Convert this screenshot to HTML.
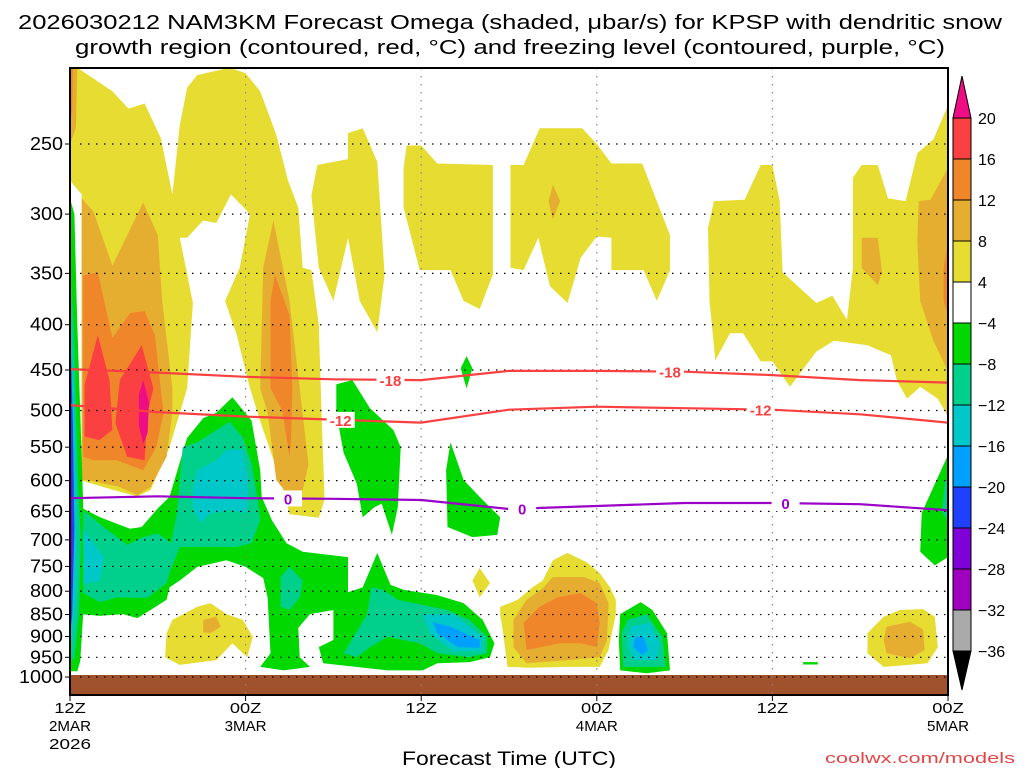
<!DOCTYPE html>
<html><head><meta charset="utf-8">
<style>
html,body{margin:0;padding:0;background:#fff;}
svg{display:block;font-family:"Liberation Sans",sans-serif;}
</style></head>
<body>
<svg id="chart" width="1024" height="768" viewBox="0 0 1024 768">
  <text x="510" y="29" font-size="20" text-anchor="middle" textLength="984" lengthAdjust="spacingAndGlyphs">2026030212 NAM3KM Forecast Omega (shaded, μbar/s) for KPSP with dendritic snow</text>
  <text x="510" y="54" font-size="20" text-anchor="middle" textLength="870" lengthAdjust="spacingAndGlyphs">growth region (contoured, red, °C) and freezing level (contoured, purple, °C)</text>
  <g id="plot"></g>
  <g id="axes"></g>
  <g id="cbar"></g>
  <text x="509" y="765" font-size="19" text-anchor="middle" textLength="214" lengthAdjust="spacingAndGlyphs">Forecast Time (UTC)</text>
  <text x="1015" y="763" font-size="15" fill="#e24545" text-anchor="end" textLength="190" lengthAdjust="spacingAndGlyphs">coolwx.com/models</text>
</svg>
<script>
// ---- data (hours since 12Z 2 MAR, pressure hPa) ----
const contourHours = [0,6,12,18,24,30,36,42,48,54,60];
const isoMinus18 = [449,453,458,461,462,451,451,452,456,462,465];
const isoMinus12 = [493,502,508,512,516,499,495,497,499,505,516];
const isoZero = [628,625,628,629,631,646,641,636,636,638,648];
const pressureTicks = [250,300,350,400,450,500,550,600,650,700,750,800,850,900,950,1000];
const timeTicks = [0,12,24,36,48,60];
const timeLabels1 = ["12Z","00Z","12Z","00Z","12Z","00Z"];
const timeLabels2 = ["2MAR","3MAR","","4MAR","","5MAR"];
const timeLabels3 = ["2026","","","","",""];
const colorLevels = [20,16,12,8,4,-4,-8,-12,-16,-20,-24,-28,-32,-36];

// shaded regions (hour, hPa)
const yelA = [[0,205],[0.5,205],[2.9,218],[4,228],[5.1,225],[6.2,246],[7,285],[7.5,238],[8,216],[8.7,209],[10.9,205],[12,208],[13,218],[14.1,244],[14.9,275],[15.6,295],[15.9,345],[16.5,347],[17,400],[17.2,510],[17.4,630],[17,661],[15,655],[14.4,600],[13.1,520],[12.3,472],[11.4,411],[10.6,376],[11.6,345],[12.3,300],[11,285],[10,307],[9.1,305],[8,319],[7.5,319],[8.4,378],[8,472],[6.8,550],[5.5,615],[4.6,625],[3,615],[0.8,600],[0.8,285],[0,275]];
const yelB = [[16.9,264],[19.0,260],[19.0,243],[20.0,240],[21.0,262],[21.5,351],[21.0,408],[19.8,376],[19.0,319],[18.0,376],[17.0,345],[16.5,286]];
const yelC = [[23,251],[24,251],[25.1,263],[28.9,264],[28.9,351],[28,384],[26.9,376],[26,347],[23.9,347],[22.8,295],[22.8,266]];
const yelD = [[30.1,264],[31,264],[32.1,240],[35,240],[36,250],[37,263],[39.1,263],[41,317],[41,347],[40.1,376],[39.2,347],[37,347],[37,319],[36,318],[34.9,336],[34,378],[32.8,362],[32,319],[31,347],[30.1,345]];
const yelE = [[44,290],[46.1,289],[47.2,264],[48,264],[48.5,290],[48.7,349],[51,378],[52.1,371],[53.1,395],[53.5,345],[53.5,273],[54.1,264],[55.2,264],[55.9,288],[57.1,290],[57.9,256],[59,247],[60,226],[60,508],[59.3,485],[58.1,470],[57.2,485],[56.5,462],[56.1,433],[54.5,422],[52.2,417],[51,429],[49.2,470],[48,440],[47.2,440],[46,409],[45.1,409],[44.1,439],[43.7,376],[43.6,311]];
const yelLowA = [[6.6,892],[7.0,862],[8.7,833],[9.6,825],[10.7,849],[11.8,862],[12.5,901],[12.1,950],[11.1,916],[10.0,957],[7.5,969],[6.5,950]];
const yelDiamond = [[28,753],[28.7,783],[28,813],[27.5,778]];
const yelLowB = [[29.4,833],[30.6,818],[31.6,792],[32.3,778],[33,738],[34,724],[35.3,742],[36.2,763],[36.9,792],[37.3,818],[37.3,849],[36.8,932],[36.2,974],[34,974],[31.4,976],[29.9,974],[29.6,892],[29.4,849]];
const yelLowC = [[54.5,892],[55.6,855],[56.7,840],[58.3,838],[59.1,855],[59.3,925],[58.6,965],[55.6,974],[54.5,940]];
const goldTL = [[0,205],[0.5,205],[0.4,240],[0,250]];
const goldA = [[0.8,288],[1.6,298],[2.9,343],[5.0,291],[6.0,317],[6.3,376],[7,472],[7,503],[6.6,564],[5.5,610],[4.6,623],[3.4,610],[1.2,599],[0.8,599]];
const goldCol = [[13.9,305],[15.0,376],[15.7,472],[16.3,575],[15.9,615],[14.8,620],[14.1,599],[13.5,503],[13.0,472],[13.2,345]];
const goldSpotD = [[33,278],[33.5,290],[33,304],[32.7,290]];
const goldSpotE = [[54.1,319],[55.2,319],[55.5,349],[55.2,361],[54.1,345]];
const goldRight = [[60,266],[58.8,289],[58,290],[57.9,322],[58.1,376],[59,417],[59.9,448],[59.9,503],[60,508]];
const goldLowA = [[9.1,862],[10,855],[10.3,877],[9.6,892],[9.1,890]];
const goldLowB = [[30.3,862],[31.2,818],[32.3,794],[33,771],[35.1,771],[36.2,783],[36.8,825],[36.7,908],[36.2,950],[34,957],[31.2,965],[30.3,925]];
const goldLowC = [[55.8,877],[57.4,866],[58.3,884],[58.4,932],[57.4,952],[55.8,940],[55.6,908]];
const orangeTL = [[0,205],[0.2,205],[0.15,230],[0,235]];
const orangeA = [[0.9,352],[1.9,349],[2.9,414],[4.1,388],[5.1,386],[5.8,411],[6.2,472],[6.4,503],[5.9,550],[5.0,584],[3.2,569],[1.6,569],[0.9,564]];
const orangeCol = [[14,351],[15,390],[15.2,472],[15.1,540],[15,564],[14.5,500],[13.7,472],[13.7,376]];
const orangeRight = [[60,322],[59.7,345],[59.7,376],[60,390]];
const orangeLowB = [[31,868],[32.1,833],[33.3,813],[34.9,804],[36.0,825],[36.2,868],[36.0,925],[34.9,916],[33.5,916],[31.2,932]];
const redA1 = [[1.9,411],[2.7,462],[2.9,526],[2.0,540],[1.0,535],[1.0,468]];
const redA2 = [[4.9,422],[5.7,472],[5.3,503],[5.1,569],[3.9,564],[3.1,517],[3.4,462]];
const magentaA = [[5.0,462],[5.4,490],[5.3,530],[5.0,545],[4.7,520],[4.7,480]];
const greenMain = [[0.7,643],[2.05,660],[4.1,680],[4.9,677],[6.0,645],[6.8,626],[8.0,537],[9.1,510],[10.0,503],[11.1,483],[11.8,499],[12.4,513],[13.0,584],[13.1,626],[13.8,665],[14.8,706],[15.9,722],[19.0,732],[19.0,802],[20.0,792],[21.0,724],[21.9,787],[22.8,797],[25.1,808],[26.9,825],[28.2,862],[29.0,916],[28.7,950],[27.3,962],[25.1,965],[24.1,983],[21.7,983],[17.3,965],[17.0,925],[18.0,908],[18.0,840],[16.4,849],[15.6,880],[15.7,950],[16.4,974],[14.6,983],[13.0,974],[13.7,940],[13.5,813],[13.2,773],[12.0,751],[10.7,738],[8.7,751],[7.5,778],[6.8,792],[6.6,818],[5.5,840],[4.6,858],[3.6,849],[2.05,853],[0.7,849]];
const greenCol = [[18.2,467],[19.3,462],[20.5,497],[22.1,526],[22.6,550],[22.4,643],[22,691],[21.3,637],[20.8,643],[20,660],[19.6,605],[18.7,558],[18.2,503]];
const greenB = [[26,543],[26.9,599],[28.2,631],[29.4,660],[29.2,691],[27.5,695],[25.8,677],[25.7,584]];
const greenSpike = [[27.1,434],[27.5,448],[27.1,472],[26.7,448]];
const greenLowB = [[37.6,849],[39.0,823],[39.8,840],[40.8,892],[41,983],[39.4,990],[37.6,983],[37.5,908]];
const greenRight = [[59.9,566],[60,560],[60,732],[59.1,748],[58.1,722],[58.2,653],[59,610]];
const greenDash = [[50.1,962],[51.1,962],[51.1,968],[50.1,968]];
const greenStrip = [[0,288],[0.3,300],[0.5,400],[0.7,500],[0.9,640],[0.9,850],[0.7,960],[0.5,985],[0,985]];
const tealMain = [[0.9,648],[2.3,677],[3.9,709],[5.0,695],[6.0,688],[6.9,706],[7.3,653],[7.7,550],[8.7,543],[10.0,526],[10.9,515],[11.8,536],[12.4,573],[12.8,626],[13.0,665],[12.4,706],[11.4,713],[7.5,713],[6.8,763],[6.6,783],[5.3,814],[3.2,813],[2.05,823],[0.9,804]];
const tealSmall = [[14.4,771],[15,751],[15.9,778],[15.7,813],[15,840],[14.4,833]];
const tealLow = [[18.7,940],[20.3,849],[20.6,792],[21.4,797],[22.4,818],[24.1,829],[25.8,840],[27.3,862],[28.5,901],[28.5,940],[27.3,950],[25.1,940],[23.9,916],[21.7,901],[20.5,925],[19.6,950]];
const tealLowB = [[38.1,862],[39.4,849],[40.5,901],[40.7,974],[37.8,974],[37.7,892]];
const tealRight = [[59.8,600],[60,600],[60,668],[59.6,650]];
const tealStrip = [[0,330],[0.3,420],[0.55,600],[0.75,700],[0.6,850],[0.3,950],[0,965]];
const cyanLeft = [[0.9,680],[2.3,732],[2.05,778],[0.9,785]];
const cyanMid = [[8.4,615],[8.7,584],[10,569],[10.7,554],[11.8,554],[12.2,599],[12.1,653],[10.9,648],[9.6,653],[8.9,670],[8.4,643]];
const cyanLow = [[24.1,849],[26.2,849],[28.2,901],[28.2,935],[26.2,935],[24.6,893]];
const cyanLowB = [[38.3,877],[39.6,868],[40.3,916],[40.1,957],[38.5,957],[38.1,916]];
const cyanStrip = [[0,360],[0.25,480],[0.45,650],[0.4,800],[0.2,900],[0,930]];
const blueLow = [[24.8,867],[26,877],[28,908],[28,927],[26.5,925],[25.1,892]];
const blueLowB = [[38.6,901],[39.2,901],[39.5,932],[39.1,945],[38.5,925]];
const blueStrip = [[0,390],[0.2,520],[0.3,680],[0.15,850],[0,900]];
const purpleStrip = [[0,450],[0.12,600],[0.15,720],[0.05,840],[0,850]];

const fills = [
 ["yellow-region-a",yelA,"#e6dc32"],["yellow-region-b",yelB,"#e6dc32"],["yellow-region-c",yelC,"#e6dc32"],
 ["yellow-region-d",yelD,"#e6dc32"],["yellow-region-e",yelE,"#e6dc32"],["yellow-low-a",yelLowA,"#e6dc32"],
 ["yellow-diamond",yelDiamond,"#e6dc32"],["yellow-low-b",yelLowB,"#e6dc32"],["yellow-low-c",yelLowC,"#e6dc32"],
 ["gold-top-left",goldTL,"#e6ae30"],["gold-region-a",goldA,"#e6ae30"],["gold-column",goldCol,"#e6ae30"],
 ["gold-spot-d",goldSpotD,"#e6ae30"],["gold-spot-e",goldSpotE,"#e6ae30"],["gold-right",goldRight,"#e6ae30"],
 ["gold-low-a",goldLowA,"#e6ae30"],["gold-low-b",goldLowB,"#e6ae30"],["gold-low-c",goldLowC,"#e6ae30"],
 ["orange-top-left",orangeTL,"#f0862a"],["orange-region-a",orangeA,"#f0862a"],["orange-column",orangeCol,"#f0862a"],
 ["orange-right",orangeRight,"#f0862a"],["orange-low-b",orangeLowB,"#f0862a"],
 ["red-lobe-1",redA1,"#fa4040"],["red-lobe-2",redA2,"#fa4040"],["magenta-core",magentaA,"#ee0d84"],
 ["green-main",greenMain,"#00d800"],["green-column",greenCol,"#00d800"],["green-b",greenB,"#00d800"],
 ["green-spike",greenSpike,"#00d800"],["green-low-b",greenLowB,"#00d800"],["green-right",greenRight,"#00d800"],
 ["green-dash",greenDash,"#00d800"],["green-strip",greenStrip,"#00d800"],
 ["teal-main",tealMain,"#00d08c"],["teal-small",tealSmall,"#00d08c"],["teal-low",tealLow,"#00d08c"],
 ["teal-low-b",tealLowB,"#00d08c"],["teal-right",tealRight,"#00d08c"],["teal-strip",tealStrip,"#00d08c"],
 ["cyan-left",cyanLeft,"#00c8c8"],["cyan-mid",cyanMid,"#00c8c8"],["cyan-low",cyanLow,"#00c8c8"],
 ["cyan-low-b",cyanLowB,"#00c8c8"],["cyan-strip",cyanStrip,"#00c8c8"],
 ["blue-low",blueLow,"#00a0ff"],["blue-low-b",blueLowB,"#00a0ff"],["blue-strip",blueStrip,"#2040ff"],
 ["purple-strip",purpleStrip,"#8000d8"]
];

// ---- axes ----
const X0=70, X1=948, PT=144, PK=384.5;
function xH(h){return X0 + h*(X1-X0)/60;}
function yP(p){return PT + PK*Math.log(p/250);}
const NS="http://www.w3.org/2000/svg";
function mk(tag, attrs, parent){const e=document.createElementNS(NS,tag);for(const k in attrs)e.setAttribute(k,attrs[k]);parent.appendChild(e);return e;}
const plot=document.getElementById('plot'), axes=document.getElementById('axes'), cbar=document.getElementById('cbar');

const clip=mk('clipPath',{id:'pc'},mk('defs',{},plot));
mk('rect',{x:X0,y:68,width:X1-X0,height:627},clip);
const inner=mk('g',{'clip-path':'url(#pc)'},plot);

fills.forEach(f=>{
  const pg=mk('polygon',{points:f[1].map(q=>xH(q[0]).toFixed(1)+','+yP(q[1]).toFixed(1)).join(' '),fill:f[2]},inner);
  
  
});

// ground
const gr=mk('rect',{x:X0,y:675,width:X1-X0,height:20,fill:'#a0522d'},inner);



// grid
pressureTicks.forEach(p=>{
  const l=mk('line',{x1:X0+10,x2:X1,y1:yP(p),y2:yP(p),stroke:'#000','stroke-width':1.2,'stroke-dasharray':'1.5 6.5'},inner);
  
  
});
timeTicks.slice(1,5).forEach(h=>{
  const l=mk('line',{x1:xH(h),x2:xH(h),y1:68,y2:695,stroke:'#888','stroke-width':1.2,'stroke-dasharray':'1.5 6.5'},inner);
  
  
});

// contours
function contour(vals,color,name,labels){
  const d=contourHours.map((h,i)=>(i?'L':'M')+xH(h).toFixed(1)+','+yP(vals[i]).toFixed(1)).join(' ');
  const pth=mk('path',{d:d,fill:'none',stroke:color,'stroke-width':2.2},inner);
  
  
  labels.forEach(lb=>{
    const h=lb[0], i=Math.min(Math.floor(h/6),contourHours.length-2);
    const t=(h-contourHours[i])/6, p=vals[i]+(vals[i+1]-vals[i])*t;
    const x=xH(h), y=yP(p);
    mk('rect',{x:x-14,y:y-8,width:28,height:16,fill:'#fff'},inner);
    const tx=mk('text',{x:x,y:y+6,'font-size':15,'font-weight':'bold',fill:color,'text-anchor':'middle'},inner);
    tx.textContent=lb[1];
    
    
  });
}
contour(isoMinus18,'#fa4040','isotherm-minus18',[[21.9,'-18'],[41,'-18']]);
contour(isoMinus12,'#fa4040','isotherm-minus12',[[18.5,'-12'],[47.2,'-12']]);
contour(isoZero,'#9a00c8','freezing-level-0c',[[14.9,'0'],[30.9,'0'],[48.9,'0']]);

// frame
const fr=mk('rect',{x:X0,y:68,width:X1-X0,height:627,fill:'none',stroke:'#000','stroke-width':2},axes);



pressureTicks.forEach(p=>{
  mk('line',{x1:X0-5,x2:X0,y1:yP(p),y2:yP(p),stroke:'#000','stroke-width':1},axes);
  const t=mk('text',{x:63,y:yP(p)+6,'font-size':18,'text-anchor':'end',textLength:String(p).length*11,lengthAdjust:'spacingAndGlyphs'},axes);
  t.textContent=p;
  
  
});
timeTicks.forEach((h,i)=>{
  const x=xH(h);
  mk('line',{x1:x,x2:x,y1:695,y2:701,stroke:'#000','stroke-width':1},axes);
  [[timeLabels1[i],713],[timeLabels2[i],731],[timeLabels3[i],749]].forEach(r=>{
    if(!r[0])return;
    const t=mk('text',{x:x,y:r[1],'font-size':15,'text-anchor':'middle',textLength:r[0].length*10.5,lengthAdjust:'spacingAndGlyphs'},axes);
    t.textContent=r[0];
    
    
  });
});

// colorbar
const cbColors=['#fa4040','#f0862a','#e6ae30','#e6dc32','#ffffff','#00d800','#00d08c','#00c8c8','#00a0ff','#2040ff','#8000d8','#a000c0','#aaaaaa'];
const CB0=953, CBW=18, CBT=118, CBS=41;
function yC(i){return CBT+i*CBS;}
const tri1=mk('polygon',{points:`${CB0},${yC(0)} ${CB0+CBW/2},76 ${CB0+CBW},${yC(0)}`,fill:'#ee0d84',stroke:'#000','stroke-width':1},cbar);


cbColors.forEach((c,i)=>{
  const r=mk('rect',{x:CB0,y:yC(i),width:CBW,height:CBS,fill:c,stroke:'#000','stroke-width':1},cbar);
  
  
});
const tri2=mk('polygon',{points:`${CB0},${yC(13)} ${CB0+CBW/2},690 ${CB0+CBW},${yC(13)}`,fill:'#000',stroke:'#000','stroke-width':1},cbar);


colorLevels.forEach((v,i)=>{
  const s=v<0?'\u2212'+(-v):String(v);
  const t=mk('text',{x:978,y:yC(i)+6,'font-size':16},cbar);
  t.textContent=s;
  
  
});
</script>
</body></html>
